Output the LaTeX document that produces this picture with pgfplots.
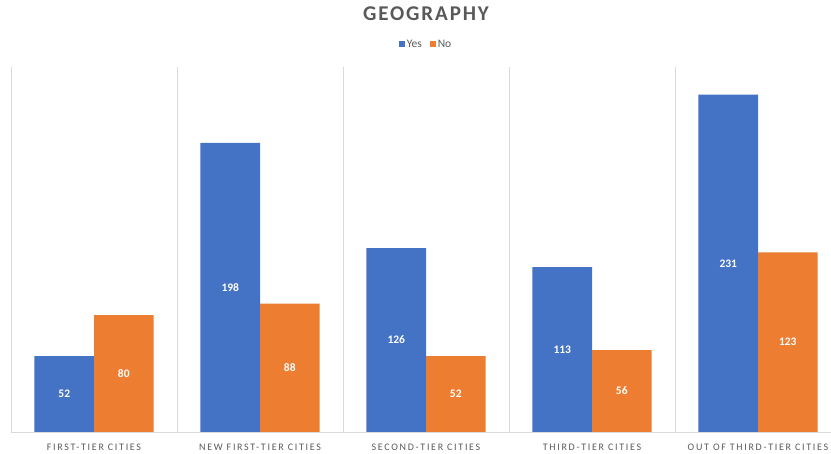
\documentclass[border=0pt]{standalone}
\usepackage{fontspec}
\setmainfont{Carlito}
\usepackage{pgfplots}
\pgfplotsset{compat=1.18}
\definecolor{cyes}{HTML}{4472C4}
\definecolor{cno}{HTML}{ED7D31}
\definecolor{gridc}{HTML}{D9D9D9}
\definecolor{txt}{HTML}{595959}
\newfontfamily\titlefont[LetterSpace=9]{Carlito}
\newfontfamily\labfont[LetterSpace=17]{Carlito}
\begin{document}
\begin{tikzpicture}[x=1pt,y=1pt]
\useasboundingbox (0,0) rectangle (831,454);
\clip (0,0) rectangle (831,454);
\begin{axis}[
  at={(11pt,22pt)}, anchor=south west,
  scale only axis, width=830pt, height=365pt,
  xmin=-0.5, xmax=4.5, ymin=0, ymax=250,
  ybar=0pt, bar width=59.5pt,
  axis y line=none, axis x line*=bottom,
  x axis line style={gridc, line width=0.8pt, -},
  xtick={0,1,2,3,4},
  xticklabels={FIRST-TIER CITIES, NEW FIRST-TIER CITIES, SECOND-TIER CITIES, THIRD-TIER CITIES, OUT OF THIRD-TIER CITIES},
  xticklabel style={font=\labfont\fontsize{10}{12}\selectfont, text=txt, yshift=-8pt},
  major tick length=0pt, minor tick length=0pt,
  minor xtick={-0.5,0.5,1.5,2.5,3.5,4.5},
  xminorgrids, minor grid style={gridc, line width=0.8pt},
  title={GEOGRAPHY},
  title style={at={(0.5,1)}, anchor=base, yshift=40pt, font=\titlefont\bfseries\fontsize{21}{24}\selectfont, text=txt},
  legend style={at={(0.5,1)}, anchor=center, yshift=22.5pt, draw=none, fill=none,
    font=\fontsize{11.5}{13}\selectfont, text=txt, legend columns=2,
    /tikz/every even column/.append style={column sep=6pt}},
  legend image code/.code={\fill[#1] (0pt,-3pt) rectangle (6pt,3pt);},
  nodes near coords,
  /pgf/number format/assume math mode=true,
  visualization depends on=y \as \rawy,
  every node near coord/.append style={anchor=center, text=white,
    font=\bfseries\fontsize{11.5}{13}\selectfont,
    shift={(axis direction cs:0,-\rawy/2)}},
]
\addplot[fill=cyes, draw=none] coordinates {(0,52) (1,198) (2,126) (3,113) (4,231)};
\addplot[fill=cno, draw=none] coordinates {(0,80) (1,88) (2,52) (3,56) (4,123)};
\legend{Yes, No}
\end{axis}
\end{tikzpicture}
\end{document}
